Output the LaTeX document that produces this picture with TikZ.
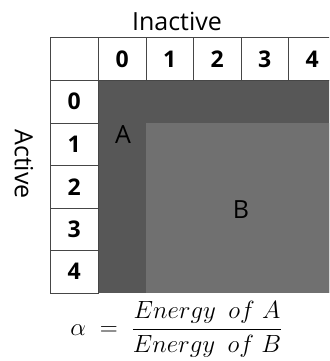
\documentclass[tikz,border=0pt]{standalone}
\usepackage{amsmath}
\usepackage{fontspec}
\setmainfont{Open Sans}
\definecolor{gridc}{RGB}{70,70,70}
\definecolor{Acol}{RGB}{87,87,87}
\definecolor{Bcol}{RGB}{112,112,112}
\begin{document}
\begin{tikzpicture}[x=1pt,y=-1pt,
  cell/.style={draw=gridc, line width=0.9pt, minimum width=47.5pt, minimum height=42.5pt,
    inner sep=0pt, anchor=north west, fill=white, font=\fontsize{23}{23}\selectfont\bfseries},
  lbl/.style={inner sep=0pt, font=\fontsize{25}{25}\selectfont},
  formula/.style={inner sep=0pt, font=\fontsize{25}{30}\selectfont}]
\useasboundingbox (0,0) rectangle (329,361);
\clip (0,0) rectangle (329,361);
\fill[Acol] (98,80) rectangle (336,292.5);
\fill[Bcol] (145.5,122.5) rectangle (336,292.5);
\node[cell] (corner) at (50,37.5) {};
\foreach \i in {0,...,4} {
  \node[cell] (h\i) at (98+47.5*\i,37.5) {\i};
  \node[cell] (r\i) at (50,80+42.5*\i) {\i};
}
\node[lbl] (inactive) at (177,21) {Inactive};
\node[lbl, rotate=-90] (active) at (24,164) {Active};
\node[lbl] (labA) at (123,135) {A};
\node[lbl] (labB) at (241,210) {B};
\node[formula] (alpha) at (176.5,329.5)
  {$\alpha \;=\; \dfrac{Energy\hspace{0.5em}of\hspace{0.3em}A}{Energy\hspace{0.5em}of\hspace{0.3em}B}$};
\end{tikzpicture}
\end{document}
